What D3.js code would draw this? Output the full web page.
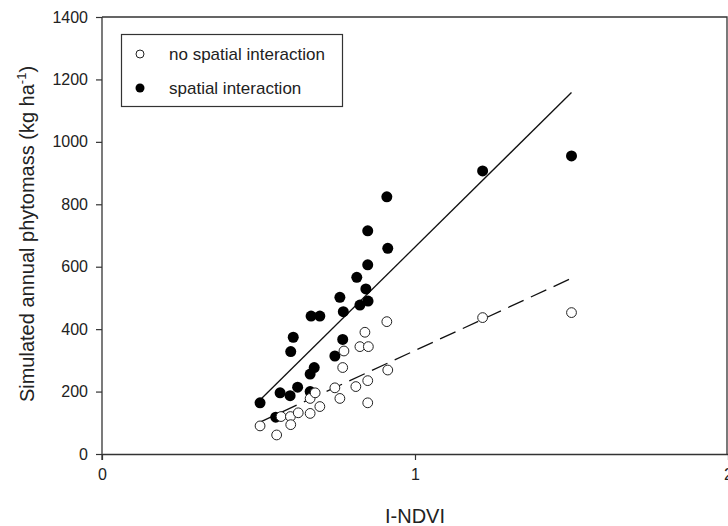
<!DOCTYPE html>
<html>
<head>
<meta charset="utf-8">
<script src="https://cdn.jsdelivr.net/npm/d3@7"></script>
<style>
  body { margin: 0; background: #fff; }
  text { font-family: "Liberation Sans", Arial, sans-serif; fill: #222; }
</style>
</head>
<body>
<script>
// chart data
var noInteractionX = [0.505, 0.558, 0.572, 0.602, 0.603, 0.627, 0.665, 0.665, 0.681, 0.696, 0.744, 0.760,
                      0.769, 0.773, 0.811, 0.824, 0.851, 0.840, 0.849, 0.849, 0.913, 0.910, 1.216, 1.500];
var noInteractionY = [90, 61, 120, 120, 94, 132, 130, 178, 196, 152, 212, 178,
                      277, 330, 216, 344, 344, 390, 235, 164, 269, 424, 437, 453];

var interactionX = [0.505, 0.555, 0.569, 0.601, 0.625, 0.603, 0.611, 0.665, 0.665, 0.678, 0.668, 0.696, 0.744,
                    0.769, 0.771, 0.824, 0.850, 0.760, 0.843, 0.814, 0.849, 0.913, 0.849, 0.910, 1.216, 1.500];
var interactionY = [164, 118, 196, 187, 214, 328, 374, 200, 256, 277, 442, 442, 314,
                    367, 456, 477, 490, 502, 529, 566, 606, 659, 715, 824, 907, 955];

// fitted lines (end points)
var solidFitX = [0.5, 1.5], solidFitY = [168, 1158];
var dashFitX = [0.5, 1.5], dashFitY = [100, 563];

var xTicks = [0, 1, 2];
var yTicks = [0, 200, 400, 600, 800, 1000, 1200, 1400];
var legendLabels = ['no spatial interaction', 'spatial interaction'];

var width = 728,
    height = 526;

var svg = d3.select('body')
    .append('svg')
    .attr('width', width)
    .attr('height', height);

// plot box (pixel edges)
var plotLeft = 102, plotRight = 728, plotTop = 17, plotBottom = 454;

var x = d3.scaleLinear().domain([0, 2]).range([plotLeft, plotRight]);
var y = d3.scaleLinear().domain([0, 1400]).range([plotBottom, plotTop]);

// frame on top and right
svg.append('path')
    .attr('d', 'M' + plotLeft + ',' + plotTop + 'H' + (plotRight - 1) + 'V' + plotBottom)
    .attr('fill', 'none')
    .attr('stroke', '#333')
    .attr('stroke-width', 1.3);

var xAxis = svg.append('g')
    .attr('transform', 'translate(0,' + plotBottom + ')')
    .call(d3.axisBottom(x).tickValues(xTicks).tickFormat(d3.format('d')).tickSize(6).tickSizeOuter(0).tickPadding(9));

var yAxis = svg.append('g')
    .attr('transform', 'translate(' + plotLeft + ',0)')
    .call(d3.axisLeft(y).tickValues(yTicks).tickFormat(d3.format('d')).tickSize(6).tickSizeOuter(0).tickPadding(8));

[xAxis, yAxis].forEach(function(a) {
  a.attr('font-size', 16).attr('font-family', '"Liberation Sans", Arial, sans-serif');
  a.select('.domain').attr('stroke', '#333').attr('stroke-width', 1.3);
  a.selectAll('.tick line').attr('stroke', '#333').attr('stroke-width', 1.2);
  a.selectAll('.tick text').attr('fill', '#222');
});
// y axis runs a bit below the x axis like the original
yAxis.select('.domain').attr('d', 'M0,' + plotTop + 'V' + (plotBottom + 6));

// axis titles
svg.append('text')
    .attr('x', x(1))
    .attr('y', 523)
    .attr('text-anchor', 'middle')
    .style('font-size', '20px')
    .text('I-NDVI');

var yTitle = svg.append('text')
    .attr('transform', 'translate(34,234) rotate(-90)')
    .attr('text-anchor', 'middle')
    .style('font-size', '20px');
yTitle.append('tspan').text('Simulated annual phytomass (kg ha');
yTitle.append('tspan').attr('dy', -8).style('font-size', '13px').text('-1');
yTitle.append('tspan').attr('dy', 8).text(')');

// fitted lines
var line = d3.line()
  .x(function(d) { return x(d[0]); })
  .y(function(d) { return y(d[1]); });

svg.append('path')
    .datum(d3.zip(solidFitX, solidFitY))
    .attr('d', line)
    .attr('fill', 'none')
    .attr('stroke', '#111')
    .attr('stroke-width', 1.3);

svg.append('path')
    .datum(d3.zip(dashFitX, dashFitY))
    .attr('d', line)
    .attr('fill', 'none')
    .attr('stroke', '#111')
    .attr('stroke-width', 1.3)
    .attr('stroke-dasharray', '17,8');

// points: filled first, open on top
svg.append('g').selectAll('circle')
    .data(d3.zip(interactionX, interactionY))
    .enter()
    .append('circle')
    .attr('cx', function(d) { return x(d[0]); })
    .attr('cy', function(d) { return y(d[1]); })
    .attr('r', 5.5)
    .attr('fill', '#000');

svg.append('g').selectAll('circle')
    .data(d3.zip(noInteractionX, noInteractionY))
    .enter()
    .append('circle')
    .attr('cx', function(d) { return x(d[0]); })
    .attr('cy', function(d) { return y(d[1]); })
    .attr('r', 4.9)
    .attr('fill', '#fff')
    .attr('stroke', '#222')
    .attr('stroke-width', 1);

// legend
var legend = svg.append('g');
legend.append('rect')
    .attr('x', 121.5)
    .attr('y', 34.5)
    .attr('width', 221)
    .attr('height', 72)
    .attr('fill', '#fff')
    .attr('stroke', '#333')
    .attr('stroke-width', 1.2);

legendLabels.forEach(function(label, i) {
  var cy = 54 + i * 34;
  legend.append('circle')
      .attr('cx', 140)
      .attr('cy', cy)
      .attr('r', i === 0 ? 4 : 4.5)
      .attr('fill', i === 0 ? '#fff' : '#000')
      .attr('stroke', '#222')
      .attr('stroke-width', i === 0 ? 1 : 0);
  legend.append('text')
      .attr('x', 169)
      .attr('y', cy + 6)
      .style('font-size', '17px')
      .text(label);
});
</script>
</body>
</html>
